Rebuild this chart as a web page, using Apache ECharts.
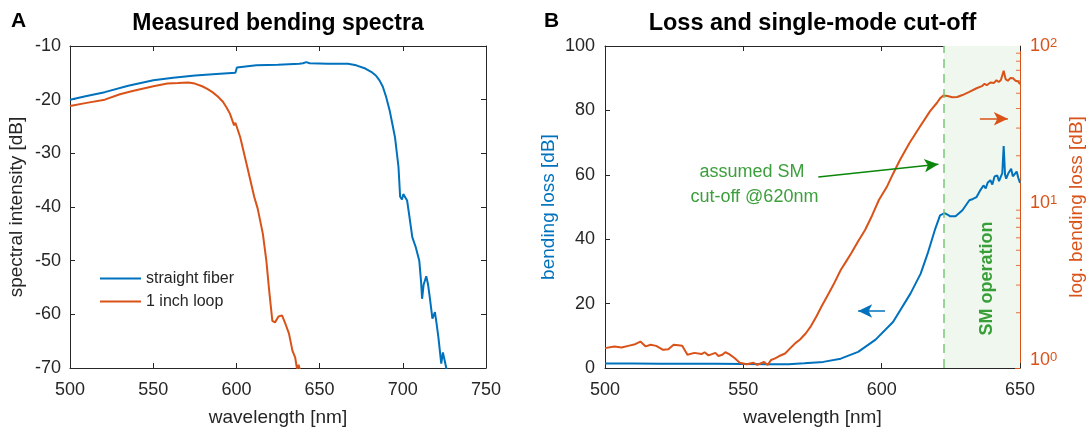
<!DOCTYPE html>
<html><head><meta charset="utf-8">
<script src="https://cdn.jsdelivr.net/npm/echarts@6/dist/echarts.min.js"></script>
<style>html,body{margin:0;padding:0;background:#fff}#c{width:1091px;height:427px}</style>
</head><body><div id="c"></div>
<script>
// ---------- DATA ----------
// Panel A: measured bending spectra [wavelength nm, spectral intensity dB]
const straightFiber = [
  [500,-20.0],[510,-19.3],[520.9,-18.6],[535,-17.4],[550.1,-16.4],[562,-15.9],[575.2,-15.5],[588,-15.2],
  [599.4,-15.0],[600.3,-14.0],[600.9,-13.7],[612,-13.6],[625,-13.5],[637.8,-13.3],[640,-13.2],[642,-13.0],
  [644,-13.2],[655,-13.3],[667.1,-13.3],[672,-13.6],[677.5,-14.2],[681,-14.8],[683.8,-15.5],[686,-16.4],
  [688,-17.6],[690,-19.5],[692.1,-22.0],[693.7,-24.5],[695.3,-27.0],[697.4,-32.5],[698.4,-38.1],[699.5,-38.6],
  [700.3,-37.6],[701.1,-37.4],[702.6,-38.8],[704.3,-42.5],[705.7,-45.6],[707.8,-47.5],[709.9,-50.0],[711,-54],
  [711.6,-57.1],[712.5,-54.5],[714.1,-52.9],[715.2,-54.5],[716.2,-56.8],[717.8,-60.8],[719.3,-59.6],[720.2,-61.5],
  [721.4,-64.3],[723.1,-69.2],[724.1,-67.1],[726.2,-70.1],[728,-73]
];
const inchLoop = [
  [500,-21.2],[510,-20.6],[520.9,-20.0],[530,-19.0],[537.6,-18.4],[550.1,-17.5],[558.5,-17.0],[565,-16.9],
  [571,-16.8],[575,-17.0],[579.4,-17.5],[582.5,-18.0],[585.6,-18.6],[588.8,-19.4],[591.9,-20.4],[594,-21.4],
  [596.1,-22.6],[598.6,-24.8],[599.4,-24.3],[600.3,-24.6],[602.3,-27.0],[606.5,-32.5],[610.7,-38.1],[612.8,-40.3],
  [615.9,-45.0],[618,-50.0],[619.7,-55.6],[621.6,-61.2],[623.2,-61.5],[625.3,-60.4],[627.4,-60.2],[629.5,-61.8],
  [631.6,-63.6],[633.7,-66.8],[635.3,-68.0],[636.4,-70.1],[637.4,-69.4],[638.3,-70.5],[640,-75]
];
const seriesNamesA = ['straight fiber', '1 inch loop'];

// Panel B: bending loss [wavelength nm, dB] (linear, left axis)
const bendingLoss = [
  [500,1.4],[510,1.4],[520,1.35],[530,1.35],[540,1.3],[550,1.25],[560,1.2],[566.3,1.2],[572,1.5],[578.9,1.9],
  [585.2,2.9],[591.5,5.0],[597.8,8.8],[604.1,14.3],[610.4,23.1],[614.1,29.3],[616.6,35.5],[619.2,42.8],[621.1,47.4],
  [622.7,48.1],[623.8,47.6],[624.8,47.1],[626.7,47.1],[629.2,49.0],[631.7,52.1],[633,52.5],[634.3,53.1],[635.5,55.0],
  [636.8,56.7],[637.6,55.8],[638.3,57.5],[639.3,58.3],[640,57.0],[640.8,59.5],[641.8,59.8],[642.4,58.0],[643.1,57.8],
  [643.6,60.5],[644.1,68.9],[644.6,60.0],[645,58.8],[645.8,60.5],[646.8,61.9],[647.4,59.5],[648.1,59.3],[648.8,61.0],
  [649.4,59.0],[650,57.5]
];
// Panel B: log. bending loss [wavelength nm, dB] (log, right axis)
const logBendingLoss = [
  [500,1.19],[503.4,1.22],[506,1.2],[508.4,1.23],[510.9,1.26],[512.8,1.31],[514.7,1.22],[516.5,1.25],[518.5,1.23],
  [521,1.16],[522.9,1.17],[524.8,1.25],[526.5,1.24],[527.9,1.23],[529.8,1.08],[532.3,1.11],[534.9,1.09],[536,1.12],
  [537.4,1.07],[539.9,1.11],[541,1.06],[542.4,1.08],[543.5,1.12],[544.9,1.09],[546.8,1.03],[548.7,0.96],[551.2,0.94],
  [553.7,0.96],[555,0.93],[556.2,0.95],[557.5,0.97],[558.8,0.93],[560,1.0],[561.3,1.02],[563,1.06],[565.1,1.10],
  [567.6,1.22],[568.8,1.28],[570.5,1.35],[572.6,1.48],[574.5,1.65],[576.4,1.89],[578.3,2.2],[580.2,2.53],[582.5,3.0],
  [585.2,3.74],[587,4.2],[589,4.78],[591.5,5.7],[594,6.73],[596.5,8.3],[599,10.45],[602,12.8],[604,15.2],[606.6,18.8],
  [610,24.0],[613.8,30.6],[617.5,38.5],[620,43.5],[621.1,46.4],[622.3,48.3],[623.8,48.0],
  [625.5,47.1],[627.3,47.3],[629.2,48.7],[631.7,51.0],[634.3,53.8],[636.2,55.5],[637.2,57.5],[638,56.2],[639.3,58.5],
  [640.6,58.2],[641.5,60.5],[642.3,59.0],[643.1,60.7],[644.1,69.5],[644.8,61.5],[645.6,60.0],[646.5,62.5],[647.5,62.3],
  [648.4,60.0],[649.4,59.3],[650,57.1]
];
const cutoffWl = 622.6;
const logMinorTicks = [2,3,4,5,6,7,8,9,20,30,40,50,60,70,80,90];
// annotations in data coordinates of panel B (x nm, y left-axis dB)
const annoTexts = [
  {text:'assumed SM', x:553.1, y:60.9},
  {text:'cut-off @620nm', x:554.0, y:53.1}
];
const smText = {text:'SM operation', x:638.0, y:27.8};
const arrows = {
  green: [[577.1,59.3],[620.5,63.3]],
  blue: [[601.2,17.7],[591.5,17.7]],
  orange: [[635.5,77.4],[645.6,77.4]]
};
const titles = ['Measured bending spectra', 'Loss and single-mode cut-off'];
const panelLetters = ['A', 'B'];

// ---------- STYLE ----------
const FONT = '"Liberation Sans", Arial, Helvetica, sans-serif';
const DARK = '#262626';
const BLUE = '#0072BD', ORANGE = '#D95319', GREEN = '#0a870a';

function xAx(grid, pos, min, max, showLabel, name) {
  return {
    type:'value', gridIndex:grid, position:pos, min:min, max:max, interval:50,
    axisLine:{show:true, onZero:false, lineStyle:{color:DARK, width:1}},
    axisTick:{show:true, inside:true, length:5, lineStyle:{color:DARK}},
    axisLabel:{show:showLabel, color:DARK, fontSize:18, fontFamily:FONT, margin:13},
    splitLine:{show:false},
    name:name || '', nameLocation:'middle', nameGap:40,
    nameTextStyle:{color:DARK, fontSize:19, fontFamily:FONT}
  };
}
function yAx(grid, pos, min, max, interval, showLabel, name, nameColor, gap) {
  return {
    type:'value', gridIndex:grid, position:pos, min:min, max:max, interval:interval,
    axisLine:{show:true, onZero:false, lineStyle:{color:DARK, width:1}},
    axisTick:{show:true, inside:true, length:5, lineStyle:{color:DARK}},
    axisLabel:{show:showLabel, color:DARK, fontSize:18, fontFamily:FONT, margin:9},
    splitLine:{show:false},
    name:name || '', nameLocation:'middle', nameGap:gap || 44, nameRotate:90,
    nameTextStyle:{color:nameColor || DARK, fontSize:19, fontFamily:FONT}
  };
}

const chart = echarts.init(document.getElementById('c'), null, {renderer:'canvas'});
const option = {
  animation:false,
  backgroundColor:'#ffffff',
  textStyle:{fontFamily:FONT},
  grid:[
    {left:70, top:46, width:416, height:322, containLabel:false, outerBoundsMode:'none'},
    {left:605, top:46, width:415, height:322, containLabel:false, outerBoundsMode:'none'}
  ],
  xAxis:[
    xAx(0,'bottom',500,750,true,'wavelength [nm]'),
    xAx(0,'top',500,750,false),
    xAx(1,'bottom',500,650,true,'wavelength [nm]'),
    xAx(1,'top',500,650,false)
  ],
  yAxis:[
    yAx(0,'left',-70,-10,10,true,'spectral intensity [dB]',DARK,44),
    yAx(0,'right',-70,-10,10,false),
    (function(){ const a = yAx(1,'left',0,100,20,true,'bending loss [dB]',BLUE,47); a.axisLabel.margin = 10; return a; })(),
    {
      type:'log', logBase:10, gridIndex:1, position:'right', min:0.889, max:100,
      axisLine:{show:true, onZero:false, lineStyle:{color:ORANGE, width:1}},
      axisTick:{show:true, inside:true, length:5, lineStyle:{color:ORANGE}},
      axisLabel:{
        show:true, margin:10, showMinLabel:true,
        formatter:function(v){
          const l = Math.log10(v);
          if (Math.abs(l - Math.round(l)) > 1e-6) return '';
          return '{b|10}{s|' + Math.round(l) + '}';
        },
        rich:{
          b:{fontSize:18, color:ORANGE, fontFamily:FONT, verticalAlign:'bottom', lineHeight:18},
          s:{fontSize:13, color:ORANGE, fontFamily:FONT, verticalAlign:'top', lineHeight:13}
        }
      },
      splitLine:{show:false}, minorTick:{show:false},
      name:'log. bending loss [dB]', nameLocation:'middle', nameGap:47, nameRotate:90,
      nameTextStyle:{color:ORANGE, fontSize:19, fontFamily:FONT}
    }
  ],
  legend:{
    data:seriesNamesA.map(n => ({name:n, icon:'rect'})), orient:'vertical', left:95, top:265,
    itemWidth:41, itemHeight:2, itemGap:6,
    textStyle:{fontSize:16, color:DARK, fontFamily:FONT, lineHeight:17}, selectedMode:false
  },
  graphic:[
    {type:'text', x:278, y:24, style:{text:titles[0], font:'bold 23px ' + FONT, fill:'#000', textAlign:'center', textVerticalAlign:'middle'}},
    {type:'text', x:812.5, y:24, style:{text:titles[1], font:'bold 23.5px ' + FONT, fill:'#000', textAlign:'center', textVerticalAlign:'middle'}},
    {type:'text', x:11, y:21, style:{text:panelLetters[0], font:'bold 21px ' + FONT, fill:'#000', textAlign:'left', textVerticalAlign:'middle'}},
    {type:'text', x:544, y:21, style:{text:panelLetters[1], font:'bold 21px ' + FONT, fill:'#000', textAlign:'left', textVerticalAlign:'middle'}}
  ],
  series:[
    {name:seriesNamesA[0], type:'line', xAxisIndex:0, yAxisIndex:0, data:straightFiber, symbol:'none', showSymbol:false,
     lineStyle:{color:BLUE, width:2}, itemStyle:{color:BLUE}, z:3},
    {name:seriesNamesA[1], type:'line', xAxisIndex:0, yAxisIndex:0, data:inchLoop, symbol:'none', showSymbol:false,
     lineStyle:{color:ORANGE, width:2}, itemStyle:{color:ORANGE}, z:3},
    // shading + cut-off line
    {type:'scatter', xAxisIndex:2, yAxisIndex:2, data:[[cutoffWl, 0]], symbolSize:0, silent:true, z:1,
     itemStyle:{color:'transparent'},
     markArea:{silent:true, itemStyle:{color:'#eff7ee'}, data:[[{xAxis:cutoffWl},{xAxis:650}]]},
     markLine:{silent:true, symbol:['none','none'], label:{show:false},
       lineStyle:{color:'#77c777', type:[9,6], width:1.5}, data:[{xAxis:cutoffWl}]}
    },
    {name:'bending loss', type:'line', xAxisIndex:2, yAxisIndex:2, data:bendingLoss, symbol:'none', showSymbol:false,
     lineStyle:{color:BLUE, width:2}, itemStyle:{color:BLUE}, z:3},
    {name:'log. bending loss', type:'line', xAxisIndex:2, yAxisIndex:3, data:logBendingLoss, symbol:'none', showSymbol:false,
     lineStyle:{color:ORANGE, width:2}, itemStyle:{color:ORANGE}, z:3},
    // log minor ticks on right axis
    {type:'scatter', xAxisIndex:2, yAxisIndex:3, data:logMinorTicks.map(v => [650, v]), symbol:'rect',
     symbolSize:[4,1], symbolOffset:[-2,0], itemStyle:{color:ORANGE}, silent:true, clip:false, z:4},
    // annotations
    {type:'scatter', xAxisIndex:2, yAxisIndex:2, symbolSize:1, silent:true, z:6,
     itemStyle:{color:'transparent'},
     data:annoTexts.map(a => ({name:a.text, value:[a.x, a.y]})).concat([
       {name:smText.text, value:[smText.x, smText.y],
        label:{rotate:90, fontWeight:'bold'}}
     ]),
     label:{show:true, position:'inside', formatter:'{b}', color:GREEN, fontSize:18, fontFamily:FONT},
     markLine:{silent:true, symbol:['none','arrow'], symbolSize:[10,14], label:{show:false},
       data:[
         [{coord:arrows.green[0], lineStyle:{color:GREEN, width:1.5, type:'solid'}, itemStyle:{color:GREEN}}, {coord:arrows.green[1]}],
         [{coord:arrows.blue[0], lineStyle:{color:BLUE, width:1.5, type:'solid'}, itemStyle:{color:BLUE}}, {coord:arrows.blue[1]}],
         [{coord:arrows.orange[0], lineStyle:{color:ORANGE, width:1.5, type:'solid'}, itemStyle:{color:ORANGE}}, {coord:arrows.orange[1]}]
       ]}
    }
  ]
};
chart.setOption(option);
</script>
</body></html>
